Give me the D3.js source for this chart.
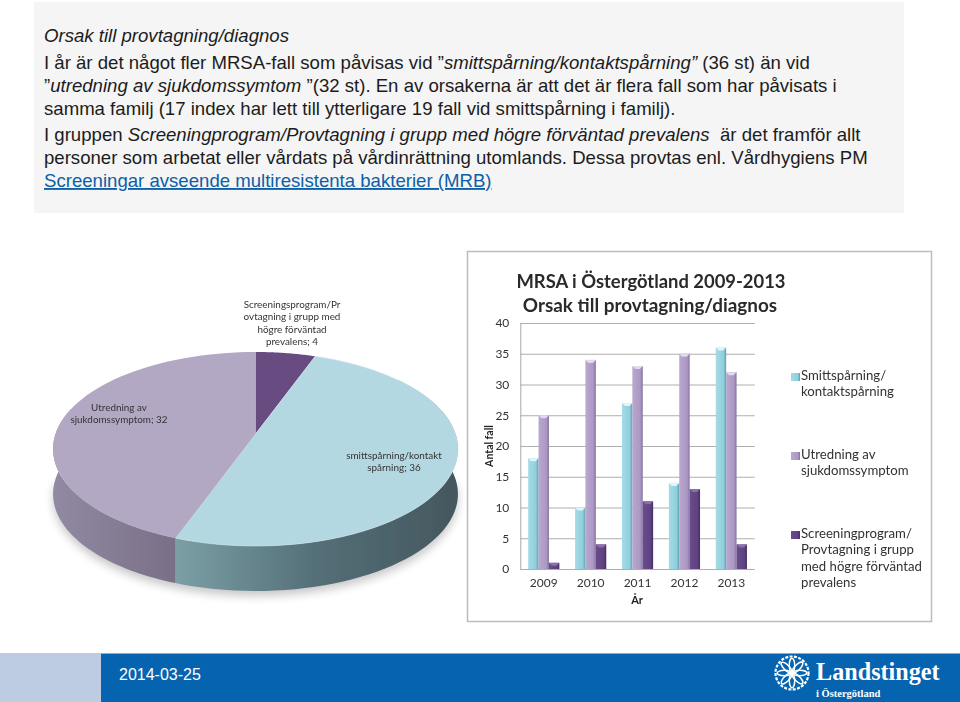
<!DOCTYPE html>
<html><head><meta charset="utf-8">
<script src="https://cdn.jsdelivr.net/npm/d3@7/dist/d3.min.js"></script>
<style>html,body{margin:0;padding:0;background:#fff}svg{display:block}</style>
</head><body><svg id="c" width="960" height="702"></svg>
<script>
const years=["2009","2010","2011","2012","2013"];
const seriesNames=["Smittspårning","Utredning","Screening"];
const smitt=[18,10,27,14,36];
const utredning=[25,34,33,35,32];
const screening=[1,4,11,13,4];
const yTicks=[0,5,10,15,20,25,30,35,40];
const pieValues=[4,36,32];
const pieLabels=[
 ["Screeningsprogram/Pr","ovtagning i grupp med","högre förväntad","prevalens; 4"],
 ["smittspårning/kontakt","spårning; 36"],
 ["Utredning av","sjukdomssymptom; 32"]];
const legendTexts=[["Smittspårning/","kontaktspårning"],["Utredning av","sjukdomssymptom"],["Screeningprogram/","Provtagning i grupp","med högre förväntad","prevalens"]];
const topLines=[
 [["Orsak till provtagning/diagnos",1]],
 [["I år är det något fler MRSA-fall som påvisas vid ”",0],["smittspårning/kontaktspårning”",1],[" (36 st) än vid",0]],
 [["”",0],["utredning av sjukdomssymtom ",1],["”(32 st). En av orsakerna är att det är flera fall som har påvisats i",0]],
 [["samma familj (17 index har lett till ytterligare 19 fall vid smittspårning i familj).",0]],
 [["I gruppen ",0],["Screeningprogram/Provtagning i grupp med högre förväntad prevalens",1],["  är det framför allt",0]],
 [["personer som arbetat eller vårdats på vårdinrättning utomlands. Dessa provtas enl. Vårdhygiens PM",0]],
 [["Screeningar avseende multiresistenta bakterier (MRB)",2]]];
const svg=d3.select("#c");
const defs=svg.append("defs");
defs.append("filter").attr("id","soft").attr("x","-5%").attr("y","-5%").attr("width","110%").attr("height","110%")
 .append("feGaussianBlur").attr("stdDeviation",0.35);
defs.append("filter").attr("id","shadow").attr("x","-10%").attr("y","-20%").attr("width","120%").attr("height","140%")
 .append("feGaussianBlur").attr("stdDeviation",5);
function grad(id,stops){const g=defs.append("linearGradient").attr("id",id);
 stops.forEach(s=>g.append("stop").attr("offset",s[0]).attr("stop-color",s[1]));}
grad("barA",[[0,"#a6dbe6"],[.75,"#8fcfdc"],[1,"#5e9dab"]]);
grad("barB",[[0,"#b9a8cf"],[.75,"#ab98c4"],[1,"#84719f"]]);
grad("barC",[[0,"#6a4c8c"],[.75,"#5e4280"],[1,"#452e63"]]);
grad("sideAr",[[0,"#7b9fa6"],[.5,"#546f77"],[1,"#44575e"]]);
grad("sideBr",[[0,"#918aa2"],[1,"#7a6f88"]]);
// top text panel
svg.append("rect").attr("x",34).attr("y",2).attr("width",870).attr("height",211).attr("fill","#f5f5f5");
const lineY=[42,69,92,115,141,164,187];
topLines.forEach((ln,i)=>{
 const t=svg.append("text").attr("x",44).attr("y",lineY[i]).attr("font-family","Liberation Sans")
  .attr("font-size",18.6).attr("fill","#1c1c1c").style("white-space","pre");
 ln.forEach(s=>{t.append("tspan").text(s[0])
  .attr("font-style",s[1]==1?"italic":"normal")
  .attr("fill",s[1]==2?"#0b5fa8":null).attr("text-decoration",s[1]==2?"underline":null);});
});
// footer
svg.append("rect").attr("x",0).attr("y",653).attr("width",960).attr("height",49).attr("fill","#0563b0");
svg.append("rect").attr("x",0).attr("y",653).attr("width",101).attr("height",49).attr("fill","#bdcbe3");
svg.append("rect").attr("x",101).attr("y",653).attr("width",859).attr("height",1).attr("fill","#7fb2d8");
svg.append("text").attr("x",119).attr("y",680).attr("font-family","Liberation Sans").attr("font-size",16).attr("fill","#fff").text("2014-03-25");
const logo=svg.append("g").attr("transform","translate(792,673)").attr("fill","none").attr("stroke","#fff");
logo.append("circle").attr("r",16.5).attr("stroke-width",2.2).attr("stroke-dasharray","3 1.4");
d3.range(8).forEach(i=>{logo.append("ellipse").attr("cy",-7.6).attr("rx",2.7).attr("ry",7.2).attr("stroke-width",1.5)
 .attr("transform",`rotate(${i*45})`);});
svg.append("text").attr("x",816).attr("y",680).attr("font-family","Liberation Serif").attr("font-weight",700).attr("font-size",24.2).attr("fill","#fff").text("Landstinget");
svg.append("text").attr("x",816).attr("y",697).attr("font-family","Liberation Serif").attr("font-weight",700).attr("font-size",10.5).attr("fill","#fff").text("i Östergötland");

// bar chart
const chart=svg.append("g").attr("filter","url(#soft)");
chart.append("rect").attr("x",467.5).attr("y",251.5).attr("width",464).attr("height",370).attr("fill","#fff").attr("stroke","#bdbdbd").attr("stroke-width",1.5);
const font="Lato";
const x=d3.scaleBand().domain(years).range([520.3,754.8]).paddingInner(0.335).paddingOuter(0.1675);
const inner=d3.scaleBand().domain(seriesNames).range([0,x.bandwidth()]);
const y=d3.scaleLinear().domain([0,40]).range([569,323]);
const gy=chart.append("g").attr("transform","translate(520.3,0)").call(d3.axisLeft(y).tickValues(yTicks).tickSize(0).tickPadding(11));
gy.select(".domain").attr("stroke","#a9a9a9");
gy.selectAll("text").attr("font-family",font).attr("font-size",12).attr("fill","#333");
gy.selectAll(".tick").append("line").attr("x2",234.5).attr("stroke","#aeaeae").attr("stroke-width",1);
const gx=chart.append("g").attr("transform","translate(0,569)").call(d3.axisBottom(x).tickSize(0).tickPadding(9));
gx.select(".domain").remove();
gx.selectAll("text").attr("font-family",font).attr("font-size",12).attr("fill","#333");
const seriesData=[smitt,utredning,screening];
seriesData.forEach((vals,si)=>{
 const name=seriesNames[si];
 const g=chart.append("g");
 g.selectAll("rect").data(vals).join("rect")
  .attr("x",(d,i)=>x(years[i])+inner(name)).attr("width",inner.bandwidth())
  .attr("y",d=>y(d)).attr("height",d=>y(0)-y(d)).attr("fill",`url(#bar${"ABC"[si]})`);
 g.selectAll("path").data(vals).join("path")
  .attr("d",(d,i)=>{const a=x(years[i])+inner(name),w=inner.bandwidth();
    return d3.line()([[a,y(d)],[a+w,y(d)],[a+w*.72,y(d)+3],[a+w*.28,y(d)+3]])+"Z";})
  .attr("fill",["#dff5f8","#e2daec","#8a70a8"][si]);
});
chart.append("text").attr("x",651).attr("y",288).attr("text-anchor","middle").attr("font-family",font).attr("font-weight",700).attr("font-size",18.4).attr("fill","#2b2b2b").text("MRSA i Östergötland 2009-2013");
chart.append("text").attr("x",650).attr("y",312).attr("text-anchor","middle").attr("font-family",font).attr("font-weight",700).attr("font-size",18.9).attr("fill","#2b2b2b").text("Orsak till provtagning/diagnos");
chart.append("text").attr("transform","translate(493,446) rotate(-90)").attr("text-anchor","middle").attr("font-family",font).attr("font-weight",700).attr("font-size",10.5).attr("fill","#222").text("Antal fall");
chart.append("text").attr("x",637).attr("y",604).attr("text-anchor","middle").attr("font-family",font).attr("font-weight",700).attr("font-size",11).attr("fill","#222").text("År");
// legend
const legY=[380,459,538];
legendTexts.forEach((ls,i)=>{
 chart.append("rect").attr("x",791).attr("y",legY[i]-7).attr("width",9).attr("height",8).attr("fill",`url(#bar${"ABC"[i]})`);
 ls.forEach((s,j)=>chart.append("text").attr("x",801).attr("y",legY[i]+j*16.4).attr("font-family",font).attr("font-size",13.2).attr("fill","#333").text(s));
});

// 3D pie via d3.pie and a perspective projection
const pieG=svg.append("g").attr("filter","url(#soft)");
const pie=d3.pie().sort(null).value(d=>d);
const arcs=pie(pieValues);
const CX=255.5,RX=200,persp=0.1546,a0=-27.6,b0=434,depth=45;
const proj=(t,dy=0)=>{const u=Math.sin(t),v=Math.cos(t),k=persp*v+1;return [CX+RX*u/k,(a0*v+b0)/k+dy];};
const sample=(t0,t1,dy)=>d3.range(0,61).map(i=>proj(t0+(t1-t0)*i/60,dy));
const line=d3.line();
pieG.append("path").attr("d",line(sample(Math.PI/2,3*Math.PI/2,depth+5))+"Z").attr("fill","#000").attr("opacity",.22).attr("filter","url(#shadow)");
const wall=(t0,t1,fill)=>pieG.append("path").attr("d",line(sample(t0,t1,0).concat(sample(t1,t0,depth)))+"Z").attr("fill",fill);
wall(arcs[1].startAngle+0.55,arcs[1].endAngle,"url(#sideAr)");
wall(arcs[2].startAngle,arcs[2].startAngle+1.5,"url(#sideBr)");
const colors=["#674b80","#b3d8e2","#b3a8c4"];
arcs.forEach((d,i)=>{
 const apex=[CX,b0];
 pieG.append("path").attr("d",line([apex].concat(sample(d.startAngle,d.endAngle,0)))+"Z").attr("fill",colors[i]).attr("stroke",i==1?"#cfe6ec":"none").attr("stroke-width",i==1?.6:0);
});
const lab=(ls,cx,y0,lh)=>ls.forEach((s,j)=>pieG.append("text").attr("x",cx).attr("y",y0+j*lh).attr("text-anchor","middle").attr("font-family",font).attr("font-size",9.9).attr("fill","#333").text(s));
lab(pieLabels[0],292,308,12.4);
lab(pieLabels[1],394,459,12.4);
lab(pieLabels[2],119,411,12.4);
</script></body></html>
